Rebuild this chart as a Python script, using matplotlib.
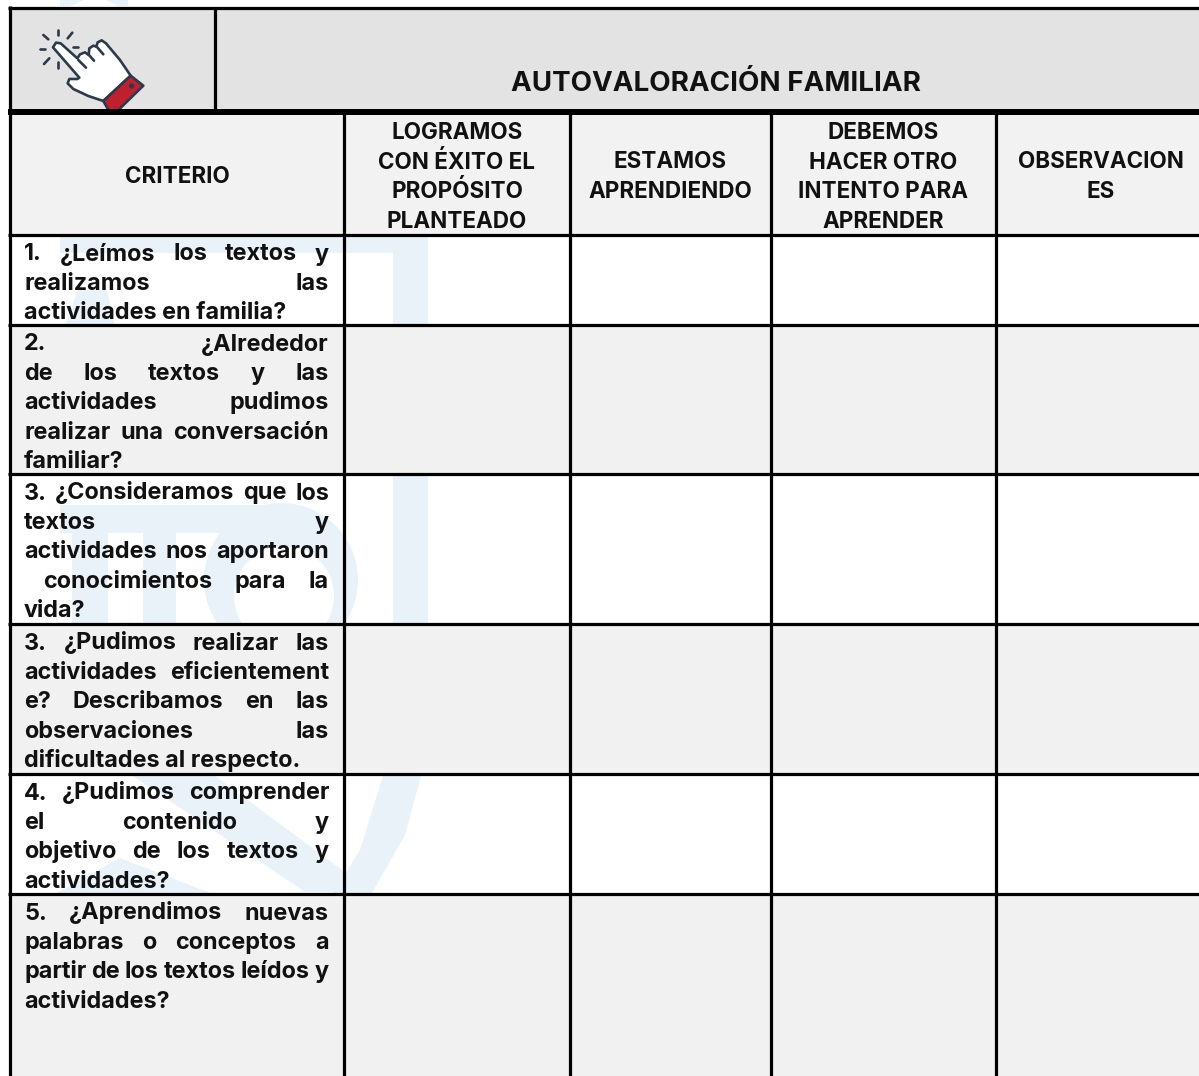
import matplotlib
matplotlib.use("Agg")
import matplotlib.pyplot as plt
from matplotlib.patches import Polygon, Rectangle, Circle

W, H = 1199, 1076
FONT = "Inter"
INK = "#111111"
NAVY = "#2c3a4b"
WATERMARK = "#e9f1f9"

title = "AUTOVALORACIÓN FAMILIAR"

# column headers, one entry per line
headers = [
    ["CRITERIO"],
    ["LOGRAMOS", "CON ÉXITO EL", "PROPÓSITO", "PLANTEADO"],
    ["ESTAMOS", "APRENDIENDO"],
    ["DEBEMOS", "HACER OTRO", "INTENTO PARA", "APRENDER"],
    ["OBSERVACION", "ES"],
]
header_centers = [177, 457, 670, 883, 1101]
header_first_baseline = [183, 139, 168, 139, 168]

# criteria text: the lines as they break in the picture, last one not justified
criteria = [
    ["1. ¿Leímos los textos y", "realizamos las", "actividades en familia?"],
    ["2. ¿Alrededor", "de los textos y las", "actividades pudimos",
     "realizar una conversación", "familiar?"],
    ["3. ¿Consideramos que los", "textos y", "actividades nos aportaron",
     "conocimientos para la", "vida?"],
    ["3. ¿Pudimos realizar las", "actividades eficientement",
     "e? Describamos en las", "observaciones las", "dificultades al respecto."],
    ["4. ¿Pudimos comprender", "el contenido y", "objetivo de los textos y",
     "actividades?"],
    ["5. ¿Aprendimos nuevas", "palabras o conceptos a",
     "partir de los textos leídos y", "actividades?"],
]

col_edges = [344, 570, 771, 996]
row_edges = [235, 325, 474, 624, 774, 894]
row_fills = ["white", "#f1f1f1", "white", "#f1f1f1", "white", "#f1f1f1"]

TEXT_LEFT, TEXT_RIGHT = 24, 329
LINE_STEP = 29.4

fig = plt.figure(figsize=(W / 100, H / 100), dpi=100)
ax = fig.add_axes([0, 0, 1, 1])
ax.set_xlim(0, W)
ax.set_ylim(H, 0)
ax.axis("off")
renderer = fig.canvas.get_renderer()


def text_width(s, size):
    t = ax.text(0, 0, s, fontsize=size, family=FONT, weight="bold")
    w = t.get_window_extent(renderer).width
    t.remove()
    return w


def fit_size(s, width):
    return 20 * width / text_width(s, 20)


def vline(x, y0, y1, lw=3.2):
    ax.plot([x, x], [y0, y1], color="black", lw=lw * 0.72, solid_capstyle="butt", zorder=5)


def hline(y, x0, x1, lw=3.2):
    ax.plot([x0, x1], [y, y], color="black", lw=lw * 0.72, solid_capstyle="butt", zorder=5)


# watermark behind the table
wm = dict(facecolor=WATERMARK, edgecolor="none", zorder=1)
ax.add_patch(Polygon([(60, 0), (84, 0), (70, 6), (60, 6)], **wm))
ax.add_patch(Polygon([(106, 0), (128, 0), (128, 6), (118, 6)], **wm))
ax.add_patch(Rectangle((60, 236), 368, 17, **wm))
ax.add_patch(Rectangle((393, 236), 35, 400, **wm))
ax.add_patch(Polygon([(65, 326), (78, 290), (107, 290), (115, 326)], **wm))
ax.add_patch(Rectangle((60, 505), 220, 28, **wm))
ax.add_patch(Rectangle((72, 505), 36, 120, **wm))
ax.add_patch(Rectangle((143, 505), 33, 120, **wm))
ax.add_patch(Circle((281, 580), 77, **wm))
ax.add_patch(Circle((284, 596), 50, facecolor="white", edgecolor="none", zorder=1))
ax.add_patch(Polygon([(133, 776), (215, 776), (372, 892), (305, 892)], **wm))
ax.add_patch(Polygon([(57, 893), (120, 858), (210, 893)], **wm))
ax.add_patch(Polygon([(383, 776), (421, 776), (405, 835), (372, 893), (333, 893), (360, 850)], **wm))

# cell fills
ax.add_patch(Rectangle((9, 8), W - 9, 103, facecolor="#e3e3e3", edgecolor="none", zorder=2))
ax.add_patch(Rectangle((9, 112), W - 9, 123, facecolor="#f2f2f2", edgecolor="none", zorder=2))
for i, fill in enumerate(row_fills):
    if fill == "white":
        continue
    bottom = row_edges[i + 1] if i + 1 < len(row_edges) else H
    ax.add_patch(Rectangle((9, row_edges[i]), W - 9, bottom - row_edges[i],
                           facecolor=fill, edgecolor="none", zorder=2))

# hand icon, outline traced in a 3x crop starting at (20, 15)
def px(points):
    return [(20 + x / 3, 15 + y / 3) for x, y in points]


hand = [(99, 97), (108, 83), (122, 85), (172, 130), (180, 118), (195, 112), (206, 120),
        (208, 100), (220, 92), (229, 95), (233, 82), (245, 76), (258, 85), (300, 135),
        (332, 182), (250, 258), (205, 243), (160, 222), (143, 205), (148, 192),
        (172, 192), (178, 188)]
cuff = [(332, 182), (370, 212), (290, 290), (268, 290), (250, 258)]
ax.add_patch(Polygon(px(hand), facecolor="white", edgecolor=NAVY, lw=1.9, joinstyle="round", zorder=3))
ax.add_patch(Polygon(px(cuff), facecolor="#c01f2e", edgecolor=NAVY, lw=1.9, joinstyle="round", zorder=3))
ax.add_patch(Circle(px([(335, 213)])[0], 2.7, facecolor=NAVY, edgecolor="none", zorder=4))
strokes = [
    [(175, 135), (198, 158)], [(205, 118), (222, 137)], [(230, 95), (250, 118)],
    [(70, 60), (85, 73)], [(113, 45), (113, 60)], [(157, 53), (143, 70)],
    [(158, 95), (175, 95)], [(60, 103), (76, 103)], [(72, 147), (88, 130)],
    [(113, 142), (113, 158)],
]
for seg in strokes:
    xs, ys = zip(*px(seg))
    ax.plot(xs, ys, color=NAVY, lw=1.9, solid_capstyle="round", zorder=4)

# grid lines
vline(10, 6, H)
hline(7.5, 8, W)
vline(215, 7, 110)
hline(112, 8, W, lw=6)
for x in col_edges:
    vline(x, 112, H)
for y in row_edges:
    hline(y, 8, W)

# headers
title_size = fit_size(title, 410)
ax.text(716, 91, title, fontsize=title_size, family=FONT, weight="bold",
        color=INK, ha="center", va="baseline", zorder=6)
header_size = fit_size("APRENDIENDO", 164)
for lines, cx, y0 in zip(headers, header_centers, header_first_baseline):
    for k, line in enumerate(lines):
        ax.text(cx, y0 + k * 29.7, line, fontsize=header_size, family=FONT, weight="bold",
                color=INK, ha="center", va="baseline", zorder=6)

# criteria, justified by hand between the two margins
body_size = fit_size("dificultades al respecto.", 277)
for top, lines in zip(row_edges, criteria):
    for k, line in enumerate(lines):
        y = top + 25.5 + k * LINE_STEP
        words = line.split()
        if k == len(lines) - 1 or len(words) == 1:
            ax.text(TEXT_LEFT, y, line, fontsize=body_size, family=FONT, weight="bold",
                    color=INK, va="baseline", zorder=6)
            continue
        left = 43 if line.startswith("conocimientos") else TEXT_LEFT
        widths = [text_width(w, body_size) for w in words]
        gap = (TEXT_RIGHT - left - sum(widths)) / (len(words) - 1)
        x = left
        for w, ww in zip(words, widths):
            ax.text(x, y, w, fontsize=body_size, family=FONT, weight="bold",
                    color=INK, va="baseline", zorder=6)
            x += ww + gap

fig.savefig("out.png", dpi=100, facecolor="white")
plt.close(fig)
